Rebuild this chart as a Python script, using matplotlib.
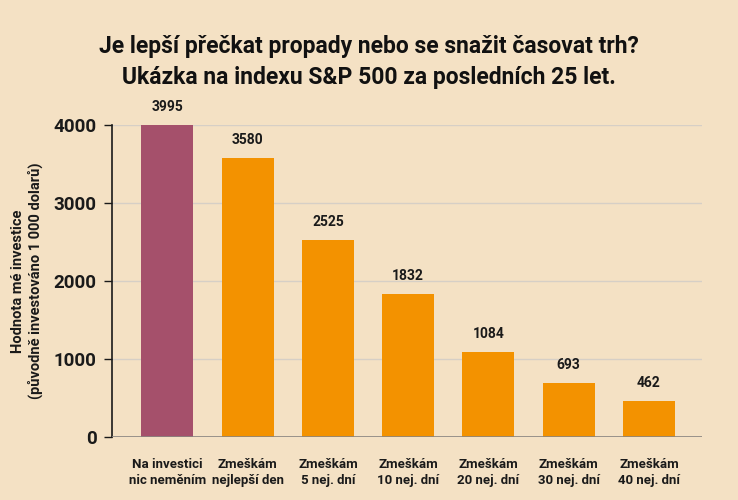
import matplotlib
matplotlib.use("Agg")
import matplotlib.pyplot as plt
from matplotlib import font_manager

categories = ["Na investici\nnic neměním", "Zmeškám\nnejlepší den", "Zmeškám\n5 nej. dní",
              "Zmeškám\n10 nej. dní", "Zmeškám\n20 nej. dní", "Zmeškám\n30 nej. dní",
              "Zmeškám\n40 nej. dní"]
values = [3995, 3580, 2525, 1832, 1084, 693, 462]
yticks = [0, 1000, 2000, 3000, 4000]

names = {f.name for f in font_manager.fontManager.ttflist}
fam = [f for f in ["Roboto", "DejaVu Sans"] if f in names]
plt.rcParams['font.family'] = fam

bg = "#f4e1c4"
colors = ["#a5506b"] + ["#f39200"] * (len(values) - 1)

fig = plt.figure(figsize=(7.38, 5.0), dpi=100, facecolor=bg)
ax = fig.add_axes([0.1518, 0.126, 0.7992, 0.624], facecolor=bg)

x = range(len(values))
ax.bar(x, values, width=0.65, color=colors, zorder=3)
for xi, v in zip(x, values):
    ax.annotate(str(v), (xi, v), xytext=(0, 8), textcoords="offset points",
                ha="center", va="bottom", fontsize=10, fontweight="bold", color="#1a1a1a",
                annotation_clip=False)

ax.set_xlim(-0.69, 6.66)
ax.set_ylim(0, 4000)
ax.set_yticks(yticks)
ax.set_yticklabels([str(t) for t in yticks], fontsize=13.5, fontweight="bold", color="#1a1a1a")
ax.set_xticks(list(x))
ax.set_xticklabels(categories, fontsize=9.5, fontweight="bold", color="#1a1a1a", linespacing=1.3)
ax.tick_params(axis="x", length=0, pad=15)
ax.tick_params(axis="y", length=6, width=1, color="#1a1a1a", pad=5)

ax.grid(axis="y", color="#d6cfc6", linewidth=1, zorder=0)
for s in ["top", "right", "bottom"]:
    ax.spines[s].set_visible(False)
ax.spines["left"].set_color("#1a1a1a")
ax.spines["left"].set_linewidth(1.2)
ax.axhline(0, color="#8a8580", linewidth=1.2, zorder=4)

ax.set_ylabel("Hodnota mé investice\n(původně investováno 1 000 dolarů)", fontsize=10.5,
              fontweight="bold", color="#1a1a1a", labelpad=8, linespacing=1.15)

fig.text(0.5, 0.876, "Je lepší přečkat propady nebo se snažit časovat trh?\nUkázka na indexu S&P 500 za posledních 25 let.",
         ha="center", va="center", fontsize=16.5, fontweight="bold", color="#111111", linespacing=1.4)

fig.savefig("out.png", dpi=100, facecolor=bg)
